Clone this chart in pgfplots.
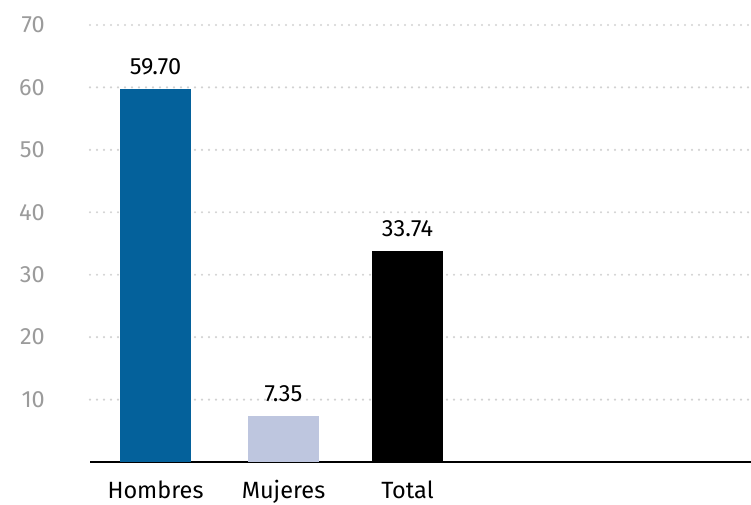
\documentclass[border=0pt]{standalone}
\usepackage{pgfplots}
\pgfplotsset{compat=1.18}
\usepackage{fontspec}
\setmainfont{Fira Sans}
\definecolor{hombres}{HTML}{04619B}
\definecolor{mujeres}{HTML}{BEC6DF}
\definecolor{gridgray}{HTML}{D2D2D2}
\definecolor{ticklab}{HTML}{9B9B9B}
\begin{document}
\begin{tikzpicture}
\path[use as bounding box] (0,0) rectangle (751pt,504pt);
\begin{axis}[
  at={(90pt,42pt)}, anchor=south west,
  scale only axis, width=661pt, height=437pt,
  xmin=90, xmax=751, ymin=0, ymax=70,
  clip=false,
  axis line style={draw=none},
  tick style={draw=none},
  major tick length=0pt,
  ytick={10,20,...,70},
  ymajorgrids,
  grid style={gridgray, line width=2.4pt, line cap=round, dash pattern=on 0pt off 7pt},
  extra y ticks={0},
  extra y tick labels={},
  extra y tick style={grid style={black, line width=2.4pt, solid, line cap=butt}},
  /pgf/number format/assume math mode=true,
  yticklabel style={font=\fontsize{23.5}{28}\selectfont, text=ticklab, anchor=east, inner sep=0pt, xshift=-45pt},
  xtick={155.5,283.5,407.5},
  xticklabels={Hombres,Mujeres,Total},
  xticklabel style={font=\fontsize{23.5}{28}\selectfont, text=black, anchor=base, inner sep=0pt, yshift=-36pt},
  bar width=71pt,
  nodes near coords,
  nodes near coords style={font=\fontsize{23.5}{28}\selectfont, text=black, anchor=base, inner sep=0pt, yshift=15pt, /pgf/number format/.cd, fixed, fixed zerofill, precision=2},
]
\addplot[ybar, fill=hombres, draw=none] coordinates {(155.5,59.70)};
\addplot[ybar, fill=mujeres, draw=none] coordinates {(283.5,7.35)};
\addplot[ybar, fill=black, draw=none] coordinates {(407.5,33.74)};
\end{axis}
\end{tikzpicture}
\end{document}
